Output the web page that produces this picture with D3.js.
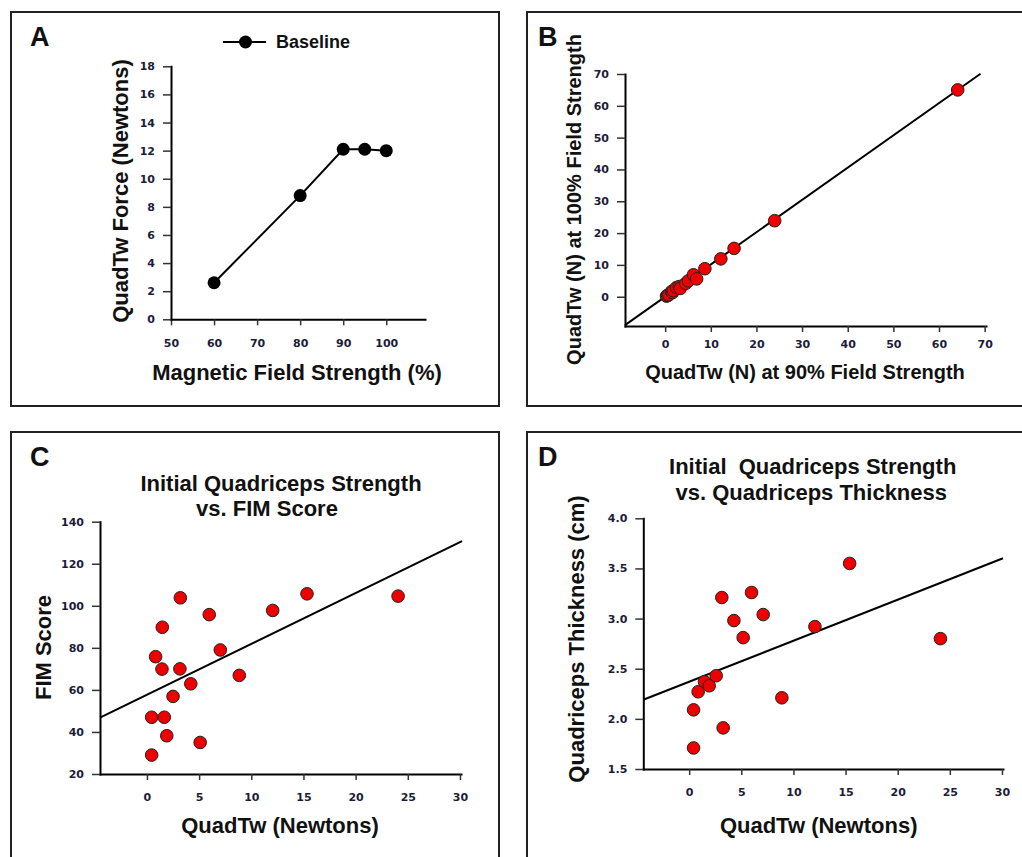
<!DOCTYPE html>
<html>
<head>
<meta charset="utf-8">
<script src="https://cdn.jsdelivr.net/npm/d3@7"></script>
<style>
  body { margin: 0; background: #fff; }
  svg { display: block; }
  .tick text { font-family: "DejaVu Sans", sans-serif; font-weight: bold; font-size: 11px; fill: #1c1c3a; }
  .tick line { stroke: #333; stroke-width: 1.5; }
  .domain { stroke: #000; stroke-width: 2; stroke-linecap: square; }
  .lbl { font-family: "Liberation Sans", Arial, sans-serif; font-weight: bold; fill: #111; }
  .frame { fill: none; stroke: #222; stroke-width: 2; }
</style>
</head>
<body>
<svg width="1022" height="857"></svg>
<script>
// ==========
// DATA
// ==========
// panel A : force vs magnetic field strength
var aFieldPct = [60, 80, 90, 95, 100];
var aForce = [2.6, 8.8, 12.1, 12.1, 12.0];
var aXTicks = [50, 60, 70, 80, 90, 100];
var aYTicks = [0, 2, 4, 6, 8, 10, 12, 14, 16, 18];

// panel B : 90% vs 100% field strength
var bAt90 = [0.3, 0.5, 0.8, 1.4, 1.6, 1.8, 2.5, 3.1, 3.3, 4.5, 5.1, 6.2, 6.9, 8.7, 12.2, 15.1, 24.0, 64.1];
var bAt100 = [0.2, 0.4, 0.6, 1.6, 1.3, 1.9, 2.9, 3.2, 2.6, 4.2, 5.0, 6.9, 5.6, 8.8, 11.9, 15.2, 23.9, 65.0];
var bFit = [1.014, 0.0];   // slope, intercept
var bTicks = [0, 10, 20, 30, 40, 50, 60, 70];

// panel C : QuadTw vs FIM score
var cQuadTw = [0.45, 0.45, 1.66, 1.9, 5.1, 0.83, 1.44, 1.47, 3.2, 3.16, 2.5, 4.2, 5.97, 7.03, 8.85, 12.05, 15.34, 24.07];
var cFim = [29, 47, 47, 38.2, 35, 75.8, 69.9, 89.8, 103.8, 70, 56.9, 62.9, 95.8, 79, 66.9, 97.8, 105.7, 104.6];
var cFit = [2.42, 57.7];
var cXTicks = [0, 5, 10, 15, 20, 25, 30];
var cYTicks = [20, 40, 60, 80, 100, 120, 140];

// panel D : QuadTw vs quadriceps thickness
var dQuadTw = [0.42, 0.42, 0.86, 1.47, 1.92, 2.59, 3.26, 3.13, 4.29, 5.18, 5.98, 7.1, 8.89, 12.06, 15.39, 24.1];
var dThick = [1.71, 2.09, 2.27, 2.37, 2.33, 2.43, 1.91, 3.21, 2.98, 2.81, 3.26, 3.04, 2.21, 2.92, 3.55, 2.80];
var dFit = [0.0409, 2.37];
var dXTicks = [0, 5, 10, 15, 20, 25, 30];
var dYTicks = [1.5, 2.0, 2.5, 3.0, 3.5, 4.0];

var svg = d3.select("svg");

// ####################################
// # frames + panel letters
// ####################################
function frame(x, y, w, h, letter, lx) {
  svg.append("rect").attr("class", "frame")
    .attr("x", x).attr("y", y).attr("width", w).attr("height", h);
  svg.append("text").attr("class", "lbl")
    .attr("x", lx).attr("y", y + 34)
    .attr("font-size", 27)
    .text(letter);
}

function axes(x, y, xTicks, yTicks, yFmt, xPad) {
  svg.append("g")
    .attr("transform", "translate(0," + y.range()[0] + ")")
    .call(d3.axisBottom(x).tickValues(xTicks).tickSizeInner(6).tickSizeOuter(0).tickPadding(xPad));
  svg.append("g")
    .attr("transform", "translate(" + x.range()[0] + ",0)")
    .call(d3.axisLeft(y).tickValues(yTicks).tickFormat(yFmt).tickSizeInner(8).tickSizeOuter(0).tickPadding(8));
}

function label(txt, x, y, size, rotate) {
  var t = svg.append("text").attr("class", "lbl")
    .attr("text-anchor", "middle")
    .attr("font-size", size)
    .text(txt);
  if (rotate) {
    t.attr("transform", "translate(" + x + "," + y + ") rotate(-90)");
  } else {
    t.attr("x", x).attr("y", y);
  }
}

function fitLine(x, y, fit, x0, x1) {
  svg.append("line")
    .attr("x1", x(x0)).attr("y1", y(fit[0] * x0 + fit[1]))
    .attr("x2", x(x1)).attr("y2", y(fit[0] * x1 + fit[1]))
    .attr("stroke", "#000").attr("stroke-width", 2);
}

function redDots(x, y, xs, ys) {
  svg.append("g").selectAll("circle")
    .data(xs)
    .enter().append("circle")
    .attr("cx", function (d) { return x(d); })
    .attr("cy", function (d, i) { return y(ys[i]); })
    .attr("r", 6.3)
    .attr("fill", "#ee0000")
    .attr("stroke", "#222")
    .attr("stroke-width", 1);
}

var intFmt = d3.format("d");

// ########
// # A    #
// ########
frame(11, 12, 488, 394, "A", 30);
var ax = d3.scaleLinear().domain([50, 109]).range([171, 425]);
var ay = d3.scaleLinear().domain([0, 18]).range([319.3, 66.3]);
axes(ax, ay, aXTicks, aYTicks, intFmt, 14);

svg.append("path")
  .datum(aFieldPct)
  .attr("fill", "none").attr("stroke", "#000").attr("stroke-width", 2)
  .attr("d", d3.line()
    .x(function (d) { return ax(d); })
    .y(function (d, i) { return ay(aForce[i]); }));

svg.append("g").selectAll("circle")
  .data(aFieldPct)
  .enter().append("circle")
  .attr("cx", function (d) { return ax(d); })
  .attr("cy", function (d, i) { return ay(aForce[i]); })
  .attr("r", 6.5)
  .attr("fill", "#000");

// legend
svg.append("line").attr("x1", 223).attr("x2", 266).attr("y1", 42).attr("y2", 42)
  .attr("stroke", "#000").attr("stroke-width", 2);
svg.append("circle").attr("cx", 245.5).attr("cy", 42).attr("r", 6.5).attr("fill", "#000");
svg.append("text").attr("class", "lbl").attr("x", 276).attr("y", 48)
  .attr("font-size", 18).text("Baseline");

label("QuadTw Force (Newtons)", 128, 191, 22, true);
label("Magnetic Field Strength (%)", 297, 380, 22, false);

// ########
// # B    #
// ########
frame(527, 12, 600, 394, "B", 538);
var bx = d3.scaleLinear().domain([-8.8, 70.3]).range([625, 986]);
var by = d3.scaleLinear().domain([-9.2, 70]).range([326, 74]);
axes(bx, by, bTicks, bTicks, intFmt, 8);
fitLine(bx, by, bFit, -8.8, 69.1);
redDots(bx, by, bAt90, bAt100);
label("QuadTw (N) at 100% Field Strength", 581, 199.5, 20, true);
label("QuadTw (N) at 90% Field Strength", 805, 379, 20, false);

// ########
// # C    #
// ########
frame(11, 432, 488, 500, "C", 30);
var cx = d3.scaleLinear().domain([-4.5, 30.1]).range([100, 461]);
var cy = d3.scaleLinear().domain([20, 140]).range([774, 521.7]);
axes(cx, cy, cXTicks, cYTicks, intFmt, 13.5);
fitLine(cx, cy, cFit, -4.5, 30.2);
redDots(cx, cy, cQuadTw, cFim);
label("Initial Quadriceps Strength", 281, 490.7, 22, false);
label("vs. FIM Score", 267, 516, 22, false);
label("FIM Score", 50.5, 647.5, 22, true);
label("QuadTw (Newtons)", 280, 833, 22, false);

// ########
// # D    #
// ########
frame(527, 432, 600, 500, "D", 538);
var dx = d3.scaleLinear().domain([-4.4, 30.1]).range([643.3, 1003]);
var dy = d3.scaleLinear().domain([1.5, 4.0]).range([769, 518.3]);
axes(dx, dy, dXTicks, dYTicks, d3.format(".1f"), 13);
fitLine(dx, dy, dFit, -4.4, 30.1);
redDots(dx, dy, dQuadTw, dThick);
svg.append("text").attr("class", "lbl")
  .attr("x", 812.7).attr("y", 474.3).attr("text-anchor", "middle")
  .attr("font-size", 22).attr("xml:space", "preserve")
  .style("white-space", "pre")
  .text("Initial  Quadriceps Strength");
label("vs. Quadriceps Thickness", 811.3, 500, 22, false);
label("Quadriceps Thickness (cm)", 584, 639, 22, true);
label("QuadTw (Newtons)", 818.7, 833, 22, false);
</script>
</body>
</html>
